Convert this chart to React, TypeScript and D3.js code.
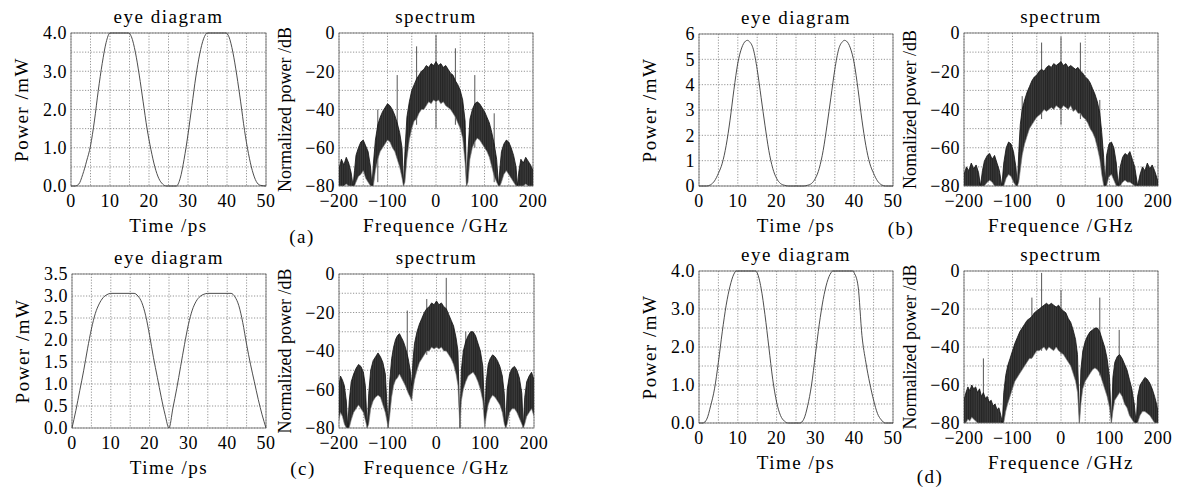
import React from "react";
import * as d3 from "d3";

const W = 1183;
const H = 490;
const FONT = "'Liberation Serif', 'Times New Roman', serif";

// ---- eye diagrams (time ps / power mW)
const timeA = [0, 1, 2, 3, 4, 5, 6, 7, 8, 9, 10, 14.7, 15.5, 16.5, 17.5, 18.5, 19.5, 20.5, 21.5, 22.5, 23.5, 24.5, 27, 28, 29, 30, 31, 32, 33, 34, 35, 39.7, 40.5, 41.5, 42.5, 43.5, 44.5, 45.5, 46.5, 47.5, 48.5, 50];
const powerA = [0, 0, 0.05, 0.3, 0.65, 1.05, 1.7, 2.5, 3.2, 3.75, 4.0, 4.0, 3.9, 3.5, 2.9, 2.2, 1.5, 0.95, 0.5, 0.2, 0.05, 0, 0, 0.2, 0.7, 1.35, 2.1, 2.85, 3.45, 3.85, 4.0, 4.0, 3.9, 3.5, 2.9, 2.2, 1.45, 0.85, 0.4, 0.12, 0.02, 0];

const timeB = [0, 2, 3, 4, 5, 6, 7, 8, 9, 10, 11, 12, 12.5, 13, 14, 15, 16, 17, 18, 19, 20, 21, 22, 23, 27, 28, 29, 30, 31, 32, 33, 34, 35, 36, 37, 37.5, 38, 39, 40, 41, 42, 43, 44, 45, 46, 47, 48, 50];
const powerB = [0, 0, 0.05, 0.2, 0.5, 0.9, 1.6, 2.6, 3.8, 4.85, 5.45, 5.72, 5.75, 5.7, 5.4, 4.6, 3.5, 2.4, 1.4, 0.7, 0.3, 0.1, 0.03, 0, 0, 0.03, 0.1, 0.3, 0.7, 1.4, 2.4, 3.5, 4.6, 5.4, 5.7, 5.75, 5.72, 5.45, 4.85, 3.8, 2.6, 1.6, 0.9, 0.5, 0.2, 0.05, 0, 0];

const timeC = [0, 1, 2, 3, 4, 5, 6, 7, 8, 9, 10, 16, 17, 18, 19, 20, 21, 22, 23, 24, 25, 26, 27, 28, 29, 30, 31, 32, 33, 34, 35, 41, 42, 43, 44, 45, 46, 47, 48, 49, 50];
const powerC = [0, 0.4, 0.85, 1.3, 1.8, 2.25, 2.6, 2.82, 2.96, 3.03, 3.06, 3.06, 3.0, 2.85, 2.55, 2.1, 1.6, 1.15, 0.7, 0.3, 0, 0.45, 0.9, 1.4, 1.9, 2.35, 2.68, 2.88, 2.99, 3.04, 3.06, 3.06, 2.98, 2.78, 2.4, 1.9, 1.45, 1.05, 0.65, 0.3, 0];

const timeD = [0, 1, 2, 3, 4, 5, 6, 7, 8, 9, 9.6, 14.5, 15, 16, 17, 18, 19, 20, 21, 22, 23, 26, 27, 28, 29, 30, 31, 32, 33, 34, 34.5, 39.6, 40, 41, 42, 43, 44, 45, 46, 47, 48, 50];
const powerD = [0, 0, 0.1, 0.45, 0.9, 1.6, 2.4, 3.1, 3.6, 3.92, 4.0, 4.0, 3.95, 3.55, 2.85, 2.0, 1.15, 0.55, 0.2, 0.05, 0, 0, 0.1, 0.45, 1.0, 1.8, 2.6, 3.25, 3.7, 3.95, 4.0, 4.0, 3.95, 3.6, 2.3, 1.6, 1.05, 0.6, 0.25, 0.08, 0, 0];

// ---- spectra (GHz / dB): upper edge and lower edge of the dense trace
const freqA = [-200, -195, -190, -185, -180, -175, -171, -168, -165, -160, -155, -150, -145, -140, -135, -132, -129, -125, -120, -115, -110, -105, -100, -95, -90, -85, -80, -75, -70, -67, -64, -60, -55, -50, -45, -40, -35, -30, -25, -20, -15, -10, -5, 0, 5, 10, 15, 20, 25, 30, 35, 40, 45, 50, 55, 60, 63, 66, 70, 75, 80, 85, 90, 95, 100, 105, 110, 115, 120, 125, 129, 132, 135, 140, 145, 150, 155, 160, 165, 168, 171, 175, 180, 185, 190, 195, 200];
const topA = [-71, -66, -69, -65, -68, -73, -80, -72, -64, -60, -57, -56, -59, -62, -70, -80, -68, -56, -48, -44, -41, -39, -37, -38, -40, -43, -47, -52, -60, -80, -62, -44, -36, -30, -27, -24, -22, -20, -19, -17, -18, -16, -17, -15, -17, -16, -18, -17, -19, -21, -22, -25, -27, -30, -35, -46, -80, -62, -45, -40, -37, -36, -37, -39, -41, -44, -47, -52, -58, -66, -80, -70, -62, -58, -56, -57, -60, -64, -70, -80, -72, -66, -68, -65, -67, -69, -72];
const lowA = [-80, -80, -80, -79, -80, -80, -80, -80, -78, -75, -74, -72, -76, -78, -80, -80, -80, -72, -66, -62, -60, -58, -56, -57, -60, -62, -66, -70, -76, -80, -78, -66, -56, -50, -46, -45, -42, -40, -40, -38, -36, -37, -35, -36, -35, -37, -36, -38, -39, -40, -42, -44, -47, -50, -55, -68, -80, -78, -66, -60, -57, -55, -56, -58, -60, -62, -65, -70, -75, -78, -80, -80, -78, -74, -72, -74, -76, -78, -80, -80, -80, -80, -80, -79, -80, -80, -80];
const toneFreqA = [-120, -80, -40, 0, 40, 80, 120];
const toneLevelA = [-40, -22, -7, -1, -8, -22, -42];
const toneBaseA = [-78, -60, -48, -50, -48, -60, -78];

const freqB = [-200, -195, -190, -185, -180, -175, -170, -166, -162, -158, -152, -147, -142, -137, -132, -127, -122, -118, -113, -108, -103, -98, -93, -90, -87, -84, -80, -75, -70, -65, -60, -55, -50, -45, -40, -35, -30, -25, -20, -15, -10, -5, 0, 5, 10, 15, 20, 25, 30, 35, 40, 45, 50, 55, 60, 65, 70, 75, 80, 84, 88, 91, 94, 99, 104, 109, 114, 118, 122, 127, 132, 137, 142, 147, 152, 158, 163, 168, 173, 178, 183, 188, 193, 198, 200];
const topB = [-74, -70, -72, -68, -71, -69, -73, -80, -72, -67, -64, -63, -66, -64, -68, -72, -80, -68, -60, -57, -58, -62, -70, -80, -62, -48, -40, -35, -31, -28, -25, -23, -22, -20, -19, -20, -18, -17, -18, -16, -17, -16, -15, -17, -16, -18, -17, -18, -19, -18, -20, -21, -23, -24, -26, -29, -32, -36, -42, -52, -65, -80, -64, -58, -57, -60, -68, -80, -70, -65, -63, -64, -62, -66, -70, -80, -74, -70, -72, -68, -71, -69, -72, -76, -78];
const lowB = [-80, -80, -80, -80, -80, -80, -80, -80, -80, -80, -78, -77, -78, -80, -80, -80, -80, -80, -76, -74, -75, -78, -80, -80, -78, -72, -64, -58, -54, -50, -48, -46, -44, -43, -42, -40, -41, -40, -39, -40, -38, -39, -40, -38, -39, -40, -38, -41, -40, -42, -42, -44, -45, -47, -50, -52, -55, -60, -66, -74, -80, -80, -80, -75, -74, -77, -80, -80, -80, -78, -77, -78, -78, -79, -80, -80, -80, -80, -80, -80, -80, -80, -80, -80, -80];
const toneFreqB = [-80, -40, 0, 40, 80];
const toneLevelB = [-33, -5, -2, -5, -35];
const toneBaseB = [-62, -45, -48, -45, -62];

const freqC = [-200, -197, -193, -189, -185, -182, -179, -175, -170, -165, -160, -155, -150, -146, -142, -139, -135, -130, -125, -120, -115, -110, -105, -99, -96, -92, -88, -84, -80, -76, -72, -68, -64, -58, -54, -51, -48, -45, -40, -35, -30, -25, -20, -15, -10, -5, 0, 5, 10, 15, 20, 25, 30, 35, 40, 44, 48, 51, 55, 60, 65, 70, 75, 80, 85, 90, 95, 99, 102, 106, 110, 115, 120, 125, 130, 135, 139, 142, 145, 150, 155, 160, 165, 170, 175, 178, 181, 185, 190, 195, 200];
const topC = [-58, -53, -55, -58, -66, -80, -66, -56, -52, -49, -47, -48, -51, -58, -80, -62, -50, -45, -43, -41, -43, -46, -52, -80, -56, -44, -38, -34, -32, -31, -33, -35, -38, -44, -50, -58, -44, -36, -30, -26, -23, -20, -18, -17, -15, -16, -14, -16, -15, -17, -18, -21, -24, -27, -33, -40, -80, -50, -40, -35, -32, -30, -30, -32, -36, -40, -48, -75, -56, -47, -44, -42, -43, -45, -48, -53, -62, -80, -60, -52, -49, -48, -50, -54, -62, -80, -64, -56, -53, -51, -55];
const lowC = [-76, -72, -74, -78, -80, -80, -80, -76, -72, -70, -68, -70, -72, -76, -80, -78, -70, -66, -64, -63, -64, -68, -72, -80, -74, -64, -58, -55, -54, -52, -54, -56, -58, -62, -64, -66, -60, -55, -50, -46, -44, -42, -40, -40, -38, -39, -38, -39, -38, -40, -40, -42, -44, -47, -52, -58, -80, -66, -60, -56, -53, -52, -51, -53, -56, -60, -66, -80, -74, -68, -65, -63, -64, -66, -68, -72, -78, -80, -78, -72, -70, -70, -72, -75, -78, -80, -78, -74, -72, -70, -74];
const toneFreqC = [-60, -20, 20, 60];
const toneLevelC = [-19, -13, -2, -30];
const toneBaseC = [-55, -42, -40, -55];

const freqD = [-200, -196, -192, -188, -184, -180, -176, -172, -168, -164, -160, -156, -152, -148, -144, -140, -136, -132, -128, -124, -121, -118, -114, -110, -105, -100, -95, -90, -85, -80, -75, -70, -65, -60, -55, -50, -45, -40, -35, -30, -25, -20, -15, -10, -5, 0, 5, 10, 15, 20, 25, 30, 34, 38, 41, 45, 50, 55, 60, 65, 70, 75, 80, 85, 90, 95, 100, 104, 107, 111, 116, 121, 126, 131, 136, 141, 146, 151, 155, 158, 163, 168, 173, 178, 183, 188, 193, 197, 200];
const topD = [-68, -64, -61, -63, -60, -62, -61, -64, -62, -66, -64, -67, -66, -69, -68, -71, -70, -73, -72, -76, -80, -64, -55, -50, -46, -42, -38, -35, -32, -30, -28, -26, -25, -24, -22, -21, -20, -19, -18, -17, -18, -17, -18, -19, -18, -20, -21, -22, -25, -27, -31, -36, -44, -80, -52, -42, -37, -34, -32, -31, -30, -30, -32, -36, -40, -46, -56, -80, -56, -48, -45, -44, -46, -49, -52, -57, -62, -70, -80, -66, -60, -58, -56, -57, -59, -62, -66, -70, -74];
const lowD = [-80, -80, -78, -79, -77, -78, -79, -80, -80, -80, -80, -80, -80, -80, -80, -80, -80, -80, -80, -80, -80, -80, -74, -70, -66, -62, -58, -56, -54, -52, -50, -48, -46, -46, -44, -42, -42, -41, -40, -42, -40, -41, -42, -40, -42, -43, -44, -46, -48, -50, -54, -58, -64, -80, -70, -62, -58, -56, -54, -52, -51, -52, -54, -58, -62, -66, -72, -80, -74, -68, -66, -64, -66, -70, -72, -76, -78, -80, -80, -80, -76, -74, -74, -75, -76, -78, -80, -80, -80];
const toneFreqD = [-160, -60, -40, 0, 80, 120];
const toneLevelD = [-46, -14, -1, -10, -14, -31];
const toneBaseD = [-75, -45, -42, -44, -55, -62];

const timeTicks = [0, 10, 20, 30, 40, 50];
const freqTicks = [-200, -100, 0, 100, 200];
const dbTicks = [0, -20, -40, -60, -80];

type Box = { x0: number; x1: number; y0: number; y1: number };

const gridStyle = { stroke: "#7a7a7a", strokeWidth: 0.8, strokeDasharray: "1.2 1.6" };
const textStyle: React.CSSProperties = { fontFamily: FONT, fontSize: 19, letterSpacing: "1.5px" };
const tickStyle: React.CSSProperties = { fontFamily: FONT, fontSize: 18, letterSpacing: "0.5px" };

function Axes({ box, x, y, xGrid, yGrid, xTicks, yTicks, xFmt, yFmt, title, xLabel, yLabel, yLabelOff, yLabelStyle }: any) {
  return (
    <g>
      {xGrid.map((v: number) => (
        <line key={"gx" + v} x1={x(v)} x2={x(v)} y1={box.y0} y2={box.y1} {...gridStyle} />
      ))}
      {yGrid.map((v: number) => (
        <line key={"gy" + v} x1={box.x0} x2={box.x1} y1={y(v)} y2={y(v)} {...gridStyle} />
      ))}
      <rect x={box.x0} y={box.y0} width={box.x1 - box.x0} height={box.y1 - box.y0} fill="none" stroke="#666" strokeWidth={0.8} />
      {xTicks.map((v: number) => (
        <text key={"tx" + v} x={x(v)} y={box.y1 + 21} textAnchor="middle" style={tickStyle}>
          {xFmt(v)}
        </text>
      ))}
      {yTicks.map((v: number) => (
        <text key={"ty" + v} x={box.x0 - 4} y={y(v)} dy="0.35em" textAnchor="end" style={tickStyle}>
          {yFmt(v)}
        </text>
      ))}
      <text x={(box.x0 + box.x1) / 2} y={box.y0 - 10} textAnchor="middle" style={textStyle}>{title}</text>
      <text x={(box.x0 + box.x1) / 2} y={box.y1 + 46} textAnchor="middle" style={textStyle}>{xLabel}</text>
      <text
        transform={`translate(${box.x0 - yLabelOff},${(box.y0 + box.y1) / 2}) rotate(-90)`}
        textAnchor="middle"
        style={{ ...textStyle, ...yLabelStyle }}
      >
        {yLabel}
      </text>
    </g>
  );
}

function EyePanel({ box, yMax, step, tickStep, fmt, time, power }: any) {
  const x = d3.scaleLinear().domain([0, 50]).range([box.x0, box.x1]);
  const y = d3.scaleLinear().domain([0, yMax]).range([box.y1, box.y0]);
  const line = d3.line<number>().x((_, i) => x(time[i])).y((d) => y(d)).curve(d3.curveMonotoneX);
  return (
    <g>
      <Axes
        box={box} x={x} y={y}
        xGrid={d3.range(0, 50.01, 5)} yGrid={d3.range(0, yMax + 1e-6, step)}
        xTicks={timeTicks} yTicks={d3.range(0, yMax + 1e-6, tickStep)}
        xFmt={d3.format("d")} yFmt={fmt}
        title="eye diagram" xLabel="Time /ps" yLabel="Power /mW" yLabelOff={43} yLabelStyle={{}}
      />
      <path d={line(power) || ""} fill="none" stroke="#3a3a3a" strokeWidth={0.9} />
    </g>
  );
}

function SpecPanel({ id, box, freq, top, low, toneF, toneL, toneB, yLabel }: any) {
  const x = d3.scaleLinear().domain([-200, 200]).range([box.x0, box.x1]);
  const y = d3.scaleLinear().domain([-80, 0]).range([box.y1, box.y0]);
  const area = d3.area<number>().x((_, i) => x(freq[i])).y0((_, i) => y(low[i])).y1((d) => y(d));
  const edge = d3.line<number>().x((_, i) => x(freq[i])).y((d) => y(d));
  return (
    <g>
      <defs>
        <clipPath id={"clip" + id}>
          <rect x={box.x0} y={box.y0 - 2} width={box.x1 - box.x0} height={box.y1 - box.y0 + 2} />
        </clipPath>
        <pattern id={"hatch" + id} width={2.2} height={3} patternUnits="userSpaceOnUse">
          <rect width={2.2} height={3} fill="#242424" />
          <line x1={1.6} x2={1.6} y1={0} y2={3} stroke="#5c5c5c" strokeWidth={0.5} />
        </pattern>
      </defs>
      <Axes
        box={box} x={x} y={y}
        xGrid={d3.range(-200, 200.01, 50)} yGrid={d3.range(-80, 0.01, 10)}
        xTicks={freqTicks} yTicks={dbTicks}
        xFmt={d3.format("d")} yFmt={d3.format("d")}
        title="spectrum" xLabel="Frequence /GHz" yLabel={yLabel} yLabelOff={48}
        yLabelStyle={{ fontSize: 18, letterSpacing: "0px" }}
      />
      <g clipPath={`url(#clip${id})`}>
        {toneF.map((f: number, i: number) => (
          <line key={"t" + f} x1={x(f)} x2={x(f)} y1={y(toneL[i])} y2={y(toneB[i])} stroke="#444" strokeWidth={0.9} />
        ))}
        <path d={area(top) || ""} fill={`url(#hatch${id})`} />
        <path d={edge(top) || ""} fill="none" stroke="#111" strokeWidth={0.8} />
        <path d={edge(low) || ""} fill="none" stroke="#888" strokeWidth={0.6} />
      </g>
    </g>
  );
}

const boxes: Record<string, Box> = {
  eyeA: { x0: 71, x1: 266, y0: 33, y1: 186 },
  specA: { x0: 339, x1: 533, y0: 33, y1: 186 },
  eyeB: { x0: 699, x1: 893, y0: 34, y1: 186 },
  specB: { x0: 964, x1: 1158, y0: 33, y1: 186 },
  eyeC: { x0: 72, x1: 266, y0: 274, y1: 428 },
  specC: { x0: 339, x1: 534, y0: 274, y1: 428 },
  eyeD: { x0: 699, x1: 893, y0: 271, y1: 423 },
  specD: { x0: 964, x1: 1158, y0: 271, y1: 423 },
};

export default function App() {
  const f1 = d3.format(".1f");
  return (
    <svg width={W} height={H} style={{ position: "absolute", left: 0, top: 0, background: "#fff" }}>
      <rect width={W} height={H} fill="#fff" />
      <EyePanel box={boxes.eyeA} yMax={4} step={0.5} tickStep={1} fmt={f1} time={timeA} power={powerA} />
      <SpecPanel id="a" box={boxes.specA} freq={freqA} top={topA} low={lowA} toneF={toneFreqA} toneL={toneLevelA} toneB={toneBaseA} yLabel="Normalized power /dB" />
      <EyePanel box={boxes.eyeB} yMax={6} step={1} tickStep={1} fmt={d3.format("d")} time={timeB} power={powerB} />
      <SpecPanel id="b" box={boxes.specB} freq={freqB} top={topB} low={lowB} toneF={toneFreqB} toneL={toneLevelB} toneB={toneBaseB} yLabel="Nomalized power /dB" />
      <EyePanel box={boxes.eyeC} yMax={3.5} step={0.5} tickStep={0.5} fmt={f1} time={timeC} power={powerC} />
      <SpecPanel id="c" box={boxes.specC} freq={freqC} top={topC} low={lowC} toneF={toneFreqC} toneL={toneLevelC} toneB={toneBaseC} yLabel="Normalized power /dB" />
      <EyePanel box={boxes.eyeD} yMax={4} step={0.5} tickStep={1} fmt={f1} time={timeD} power={powerD} />
      <SpecPanel id="d" box={boxes.specD} freq={freqD} top={topD} low={lowD} toneF={toneFreqD} toneL={toneLevelD} toneB={toneBaseD} yLabel="Normalized power /dB" />
      <text x={302} y={243} textAnchor="middle" style={textStyle}>(a)</text>
      <text x={901} y={235} textAnchor="middle" style={textStyle}>(b)</text>
      <text x={303} y={475} textAnchor="middle" style={textStyle}>(c)</text>
      <text x={930} y={483} textAnchor="middle" style={textStyle}>(d)</text>
    </svg>
  );
}
